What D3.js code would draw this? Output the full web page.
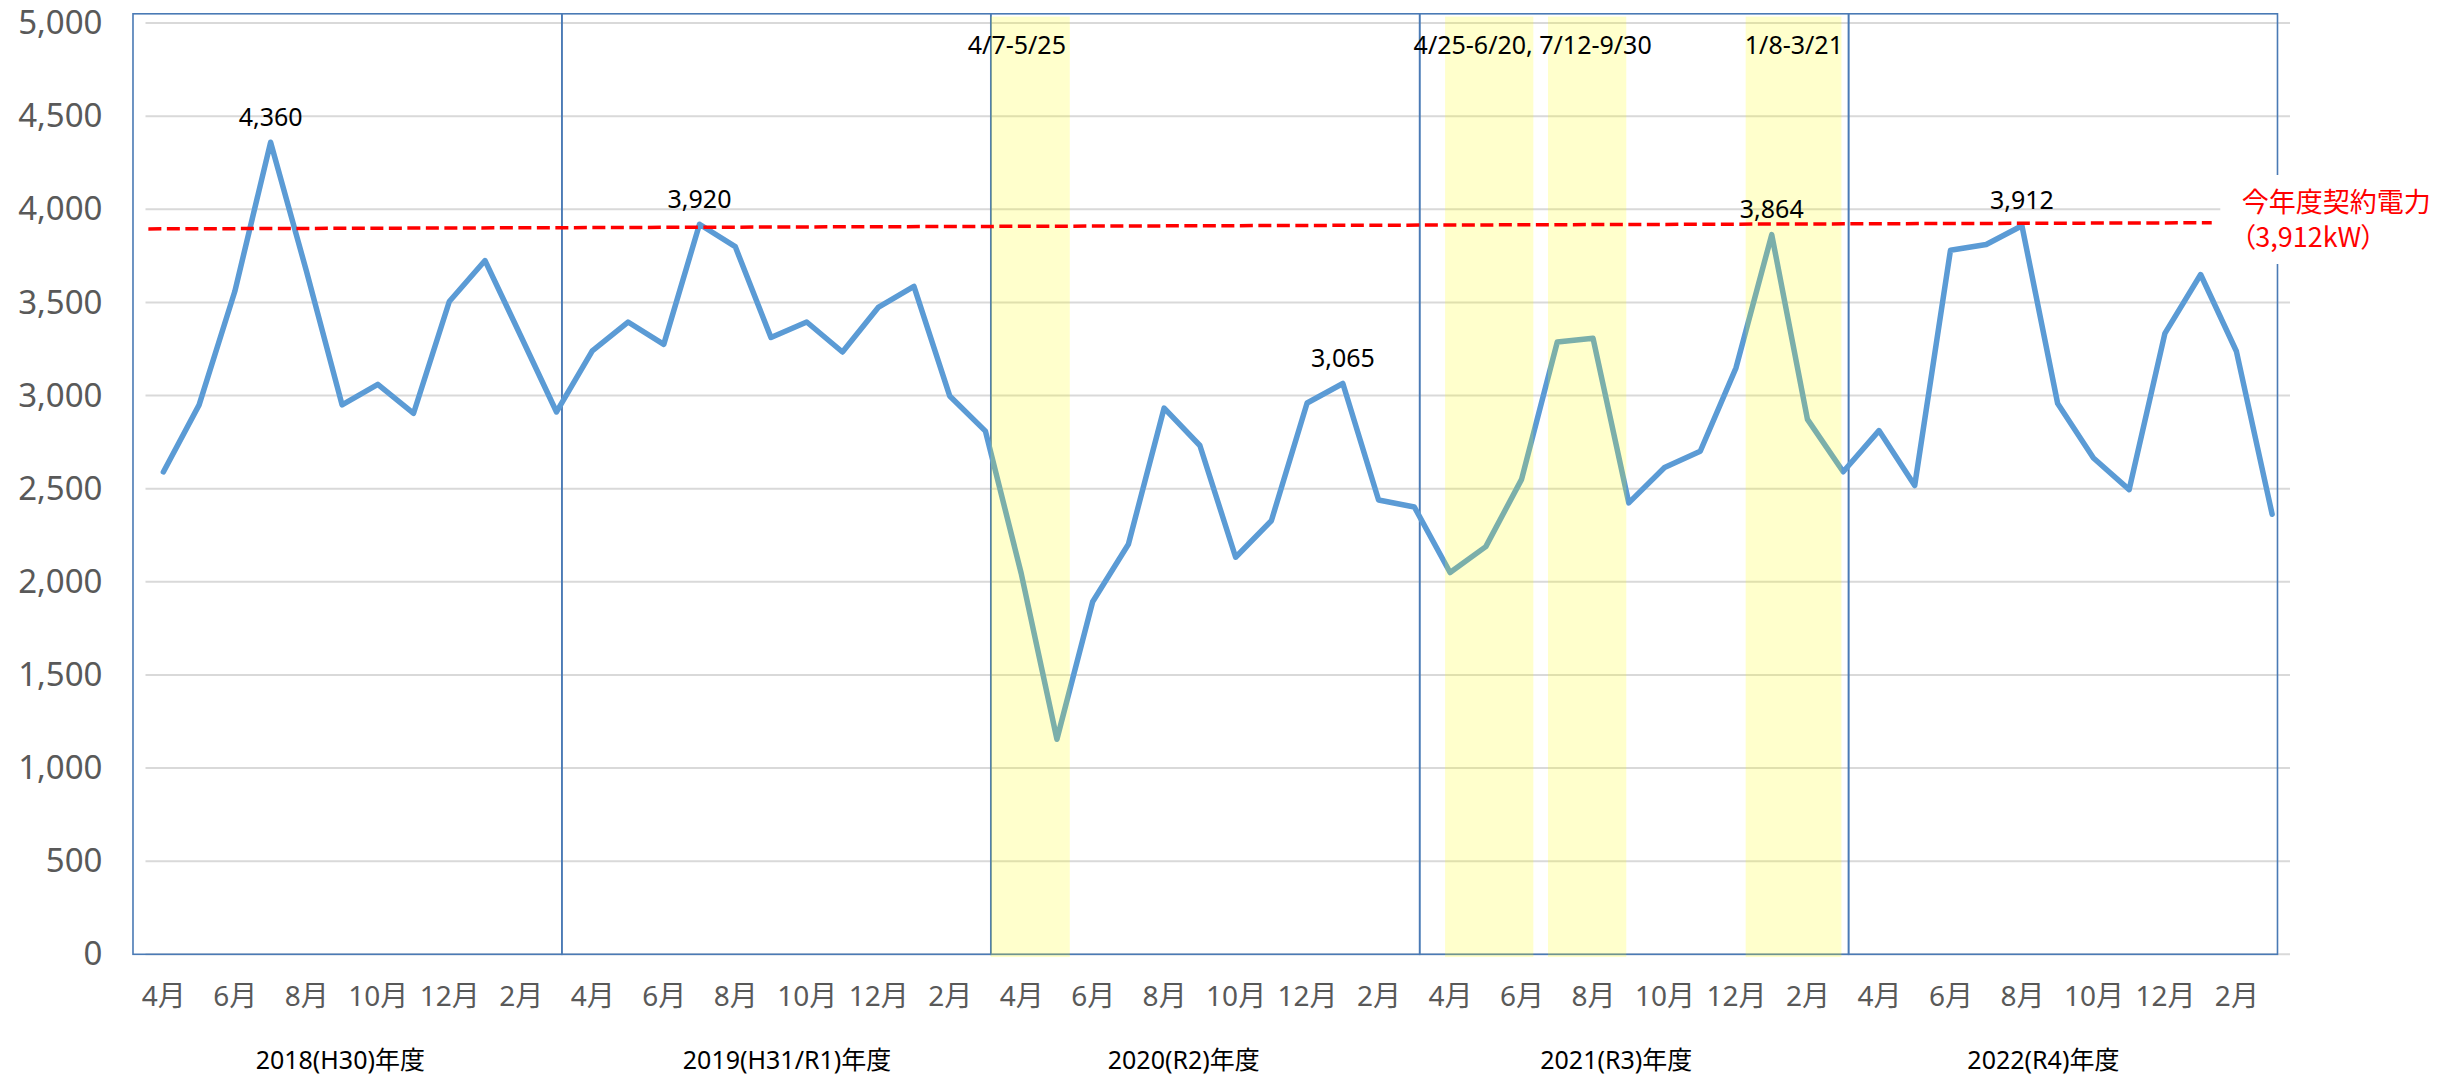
<!DOCTYPE html>
<html lang="ja">
<head>
  <meta charset="UTF-8">
  <title>月別最大需要電力</title>
  <script src="https://d3js.org/d3.v7.min.js"></script>
  <style>
    body {
      margin: 0;
      background: #fff;
    }
    svg {
      display: block;
      font-family: "Noto Sans", "Noto Sans CJK JP", sans-serif;
    }
    .palt {
      font-feature-settings: "palt";
    }
  </style>
</head>
<body>
  <svg id="chart"></svg>

  <script>
    // fiscal years (April - March) and month tick labels
    const fiscalYears = ["2018(H30)年度", "2019(H31/R1)年度", "2020(R2)年度", "2021(R3)年度", "2022(R4)年度"];
    const monthNames = ["4月", "5月", "6月", "7月", "8月", "9月", "10月", "11月", "12月", "1月", "2月", "3月"];

    // monthly peak demand (kW), Apr 2018 .. Mar 2023
    const demand = [
      2590, 2950, 3560, 4360, 3670, 2950, 3060, 2905, 3505, 3725, 3320, 2912,
      3240, 3395, 3275, 3920, 3800, 3312, 3395, 3234, 3473, 3586, 2998, 2809,
      2046, 1155, 1893, 2202, 2933, 2732, 2132, 2328, 2960, 3065, 2439, 2402,
      2050, 2189, 2550, 3288, 3308, 2424, 2614, 2701, 3149, 3864, 2872, 2591,
      2812, 2517, 3780, 3811, 3912, 2957, 2665, 2495, 3334, 3650, 3238, 2363
    ];

    // months whose value is printed above the line
    const labelledMonths = [3, 15, 33, 45, 52];

    // state of emergency periods, in month-index units
    const emergencyBands = [[23.15, 25.36], [35.86, 38.33], [38.74, 40.93], [44.27, 46.95]];
    const emergencyLabels = ["4/7-5/25", "4/25-6/20, 7/12-9/30", "1/8-3/21"];
    const emergencyLabelAt = [23.88, 38.31, 45.62];

    // contract power line: start/end values as drawn
    const contractLine = [{ m: -0.42, v: 3895 }, { m: 57.31, v: 3928 }];
    const contractText = ["今年度契約電力", "（3,912kW）"];

    // where each year label sits, in month-index units
    const yearLabelAt = [4.95, 17.45, 28.55, 40.65, 52.6];

    const yTicks = d3.range(0, 5001, 500);

    const width = 2450, height = 1077;
    const svg = d3.select("#chart").attr("width", width).attr("height", height);

    const x = d3.scaleLinear().domain([-0.5, 59.5]).range([145.5, 2290]);
    const y = d3.scaleLinear().domain([0, 5000]).range([954.3, 23.1]);
    const fmt = d3.format(",");

    // gridlines
    svg.append("g")
      .selectAll("line")
      .data(yTicks)
      .join("line")
      .attr("x1", x(-0.5))
      .attr("x2", x(59.5))
      .attr("y1", d => y(d))
      .attr("y2", d => y(d))
      .attr("stroke", "#d9d9d9")
      .attr("stroke-width", 2);

    // y axis labels
    svg.append("g")
      .attr("transform", `translate(${x(-0.5)},0)`)
      .call(d3.axisLeft(y).tickValues(yTicks).tickFormat(fmt).tickSize(0).tickPadding(43))
      .attr("font-family", null)
      .attr("font-size", null)
      .call(g => g.select(".domain").remove())
      .selectAll("text")
      .attr("font-size", 33)
      .attr("fill", "#595959");

    // one framed box per fiscal year
    svg.append("g")
      .selectAll("rect")
      .data(fiscalYears)
      .join("rect")
      .attr("x", (d, i) => x(12 * i - 0.85))
      .attr("width", (d, i) => x(12 * i + 11.15) - x(12 * i - 0.85))
      .attr("y", 13.8)
      .attr("height", y(0) - 13.8)
      .attr("fill", "none")
      .attr("stroke", "#4a7ab5")
      .attr("stroke-width", 1.6);

    // demand line
    const line = d3.line()
      .x((d, i) => x(i))
      .y(d => y(d));

    svg.append("path")
      .datum(demand)
      .attr("d", line)
      .attr("fill", "none")
      .attr("stroke", "#5b9bd5")
      .attr("stroke-width", 5.5)
      .attr("stroke-linejoin", "round")
      .attr("stroke-linecap", "round");

    // emergency bands (translucent yellow over the line)
    svg.append("g")
      .selectAll("rect")
      .data(emergencyBands)
      .join("rect")
      .attr("x", d => x(d[0]))
      .attr("width", d => x(d[1]) - x(d[0]))
      .attr("y", y(5035))
      .attr("height", y(-15) - y(5035))
      .attr("fill", "#ffff00")
      .attr("fill-opacity", 0.2);

    svg.append("g")
      .selectAll("text")
      .data(emergencyLabels)
      .join("text")
      .attr("x", (d, i) => x(emergencyLabelAt[i]))
      .attr("y", 45)
      .attr("dy", "0.35em")
      .attr("text-anchor", "middle")
      .attr("font-size", 25)
      .attr("fill", "#000")
      .text(d => d);

    // contract power (red dashed)
    svg.append("line")
      .attr("x1", x(contractLine[0].m))
      .attr("y1", y(contractLine[0].v))
      .attr("x2", x(contractLine[1].m))
      .attr("y2", y(contractLine[1].v))
      .attr("stroke", "#ff0000")
      .attr("stroke-width", 3.5)
      .attr("stroke-dasharray", "13 5.5");

    // annotation box with white background
    const note = svg.append("g");
    note.append("rect")
      .attr("x", x(57.55))
      .attr("y", 175)
      .attr("width", width - x(57.55))
      .attr("height", 89)
      .attr("fill", "#fff");
    note.selectAll("text")
      .data(contractText)
      .join("text")
      .attr("class", (d, i) => i === 1 ? "palt" : null)
      .attr("x", x(58.15))
      .attr("y", (d, i) => i === 0 ? 203 : 238)
      .attr("dy", "0.35em")
      .attr("font-family", "'Noto Sans CJK JP', sans-serif")
      .attr("font-size", 27)
      .attr("fill", "#ff0000")
      .text(d => d);

    // value labels
    svg.append("g")
      .selectAll("text")
      .data(labelledMonths)
      .join("text")
      .attr("x", d => x(d))
      .attr("y", d => y(demand[d]) - 25)
      .attr("dy", "0.35em")
      .attr("text-anchor", "middle")
      .attr("font-size", 25)
      .attr("fill", "#000")
      .text(d => fmt(demand[d]));

    // month tick labels (every other month)
    svg.append("g")
      .attr("transform", `translate(0,996)`)
      .call(d3.axisBottom(x)
        .tickValues(d3.range(0, 60, 2))
        .tickFormat(k => monthNames[k % 12])
        .tickSize(0))
      .attr("font-family", null)
      .attr("font-size", null)
      .call(g => g.select(".domain").remove())
      .selectAll("text")
      .attr("y", 0)
      .attr("dy", "0.35em")
      .attr("font-size", 28)
      .attr("fill", "#595959");

    // fiscal year labels
    svg.append("g")
      .selectAll("text")
      .data(fiscalYears)
      .join("text")
      .attr("x", (d, i) => x(yearLabelAt[i]))
      .attr("y", 1060)
      .attr("dy", "0.35em")
      .attr("text-anchor", "middle")
      .attr("font-size", 25)
      .attr("fill", "#000")
      .text(d => d);
  </script>
</body>
</html>
